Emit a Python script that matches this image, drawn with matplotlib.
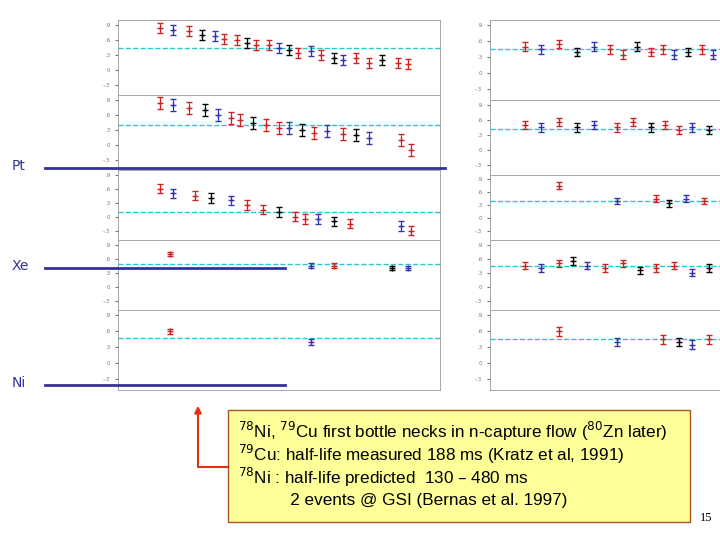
import matplotlib.pyplot as plt
from matplotlib.patches import Rectangle

# data (approximate), x = [Fe/H]-like axis 0..1, y = offset
left_x = [
    [0.13, 0.17, 0.22, 0.26, 0.30, 0.33, 0.37, 0.40, 0.43, 0.47, 0.50, 0.53, 0.56, 0.60, 0.63, 0.67, 0.70, 0.74, 0.78, 0.82, 0.87, 0.90],
    [0.13, 0.17, 0.22, 0.27, 0.31, 0.35, 0.38, 0.42, 0.46, 0.50, 0.53, 0.57, 0.61, 0.65, 0.70, 0.74, 0.78, 0.88, 0.91],
    [0.13, 0.17, 0.24, 0.29, 0.35, 0.40, 0.45, 0.50, 0.55, 0.58, 0.62, 0.67, 0.72, 0.88, 0.91],
    [0.16, 0.60, 0.67, 0.85, 0.90],
    [0.16, 0.60],
]
left_y = [
    [0.85, 0.80, 0.78, 0.70, 0.68, 0.62, 0.60, 0.55, 0.50, 0.50, 0.45, 0.40, 0.35, 0.38, 0.30, 0.25, 0.20, 0.25, 0.15, 0.20, 0.15, 0.12],
    [0.85, 0.80, 0.75, 0.70, 0.60, 0.55, 0.50, 0.45, 0.40, 0.35, 0.35, 0.30, 0.25, 0.28, 0.22, 0.20, 0.15, 0.10, -0.10],
    [0.60, 0.50, 0.45, 0.40, 0.35, 0.25, 0.15, 0.10, 0.00, -0.05, -0.05, -0.10, -0.15, -0.20, -0.30],
    [0.70, 0.45, 0.45, 0.40, 0.40],
    [0.60, 0.40],
]
left_err = [0.10, 0.12, 0.10, 0.05, 0.05]
right_x = [
    [0.15, 0.22, 0.30, 0.38, 0.45, 0.52, 0.58, 0.64, 0.70, 0.75, 0.80, 0.86, 0.92, 0.97],
    [0.15, 0.22, 0.30, 0.38, 0.45, 0.55, 0.62, 0.70, 0.76, 0.82, 0.88, 0.95],
    [0.30, 0.55, 0.72, 0.78, 0.85, 0.93],
    [0.15, 0.22, 0.30, 0.36, 0.42, 0.50, 0.58, 0.65, 0.72, 0.80, 0.88, 0.95],
    [0.30, 0.55, 0.75, 0.82, 0.88, 0.95],
]
right_y = [
    [0.50, 0.45, 0.55, 0.40, 0.50, 0.45, 0.35, 0.50, 0.40, 0.45, 0.35, 0.40, 0.45, 0.35],
    [0.50, 0.45, 0.55, 0.45, 0.50, 0.45, 0.55, 0.45, 0.50, 0.40, 0.45, 0.40],
    [0.75, 0.40, 0.45, 0.35, 0.45, 0.40],
    [0.45, 0.40, 0.50, 0.55, 0.45, 0.40, 0.50, 0.35, 0.40, 0.45, 0.30, 0.40],
    [0.60, 0.40, 0.45, 0.40, 0.35, 0.45],
]
left_dash = [0.45, 0.40, 0.10, 0.48, 0.48]
right_dash = [0.45, 0.42, 0.40, 0.45, 0.45]
labels = ["Pt", "Xe", "Ni"]
label_y = [168, 268, 385]
label_x_end = [445, 285, 285]
box_lines = [
    r"$^{78}$Ni, $^{79}$Cu first bottle necks in n-capture flow ($^{80}$Zn later)",
    r"$^{79}$Cu: half-life measured 188 ms (Kratz et al, 1991)",
    r"$^{78}$Ni : half-life predicted  130 – 480 ms",
    r"           2 events @ GSI (Bernas et al. 1997)",
]

W, H = 720, 540
fig = plt.figure(figsize=(7.2, 5.4), dpi=100)
rows_l = [20, 95, 170, 240, 310, 390]
rows_r = [20, 100, 175, 240, 310, 390]

def draw_col(x0, x1, rows, xs, ys, errs, dash):
    for i in range(5):
        ax = fig.add_axes([x0 / W, 1 - rows[i + 1] / H, (x1 - x0) / W, (rows[i + 1] - rows[i]) / H])
        ax.set_xlim(0, 1)
        ax.set_ylim(-0.5, 1.0)
        ax.tick_params(labelsize=4, length=2, colors="#777777")
        ax.set_xticks([])
        ax.set_yticks([-0.3, 0, 0.3, 0.6, 0.9])
        ax.set_yticklabels(["-.3", "0", ".3", ".6", ".9"])
        for s in ax.spines.values():
            s.set_color("#999999")
            s.set_linewidth(0.6)
        ax.axhline(dash[i], color="#22cccc", ls="--", lw=1)
        e = errs[i] if isinstance(errs, list) else errs
        for j, (x, y) in enumerate(zip(xs[i], ys[i])):
            c = "#cc2222" if j % 3 != 1 else "#3333aa"
            if j % 4 == 3:
                c = "black"
            ax.errorbar(x, y, yerr=e, fmt="+", color=c, ms=4, lw=0.8, capsize=2)
    return ax

draw_col(118, 440, rows_l, left_x, left_y, left_err, left_dash)
draw_col(490, 720, rows_r, right_x, right_y, 0.08, right_dash)

over = fig.add_axes([0, 0, 1, 1])
over.set_xlim(0, W)
over.set_ylim(H, 0)
over.axis("off")
for lab, y, xe in zip(labels, label_y, label_x_end):
    over.plot([45, xe], [y, y], color="#333399", lw=2)
    over.text(12, y - 2, lab, fontsize=10, color="#333399", va="center")

over.add_patch(Rectangle((228, 410), 462, 112, facecolor="#ffff99", edgecolor="#aa5522", lw=1))
for k, t in enumerate(box_lines):
    over.text(238, 431 + k * 23, t, fontsize=12.3, va="center", family="Liberation Sans")
over.plot([228, 198, 198], [467, 467, 415], color="#dd3311", lw=1.5)
over.annotate("", xy=(198, 403), xytext=(198, 420),
              arrowprops=dict(arrowstyle="-|>", color="#dd3311", lw=1.5))
over.text(700, 518, "15", fontsize=9, family="Liberation Serif", va="center")

fig.savefig("out.png", dpi=100)
